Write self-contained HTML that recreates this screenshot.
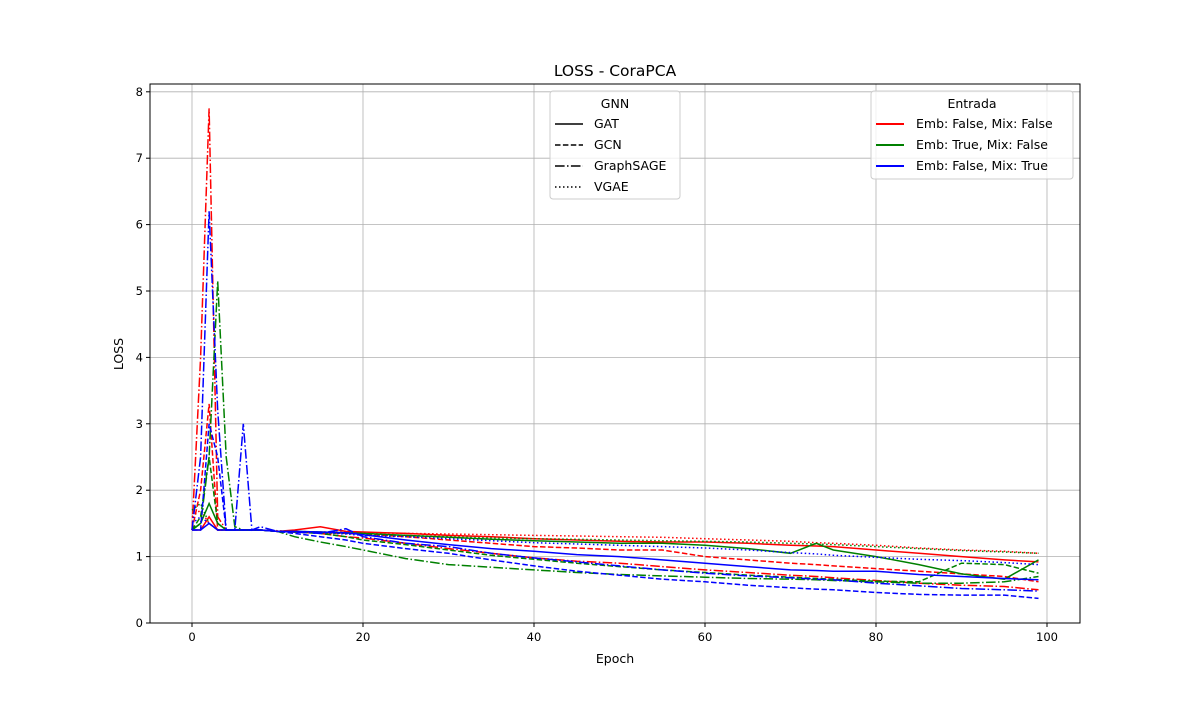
<!DOCTYPE html>
<html><head><meta charset="utf-8"><style>
body{margin:0;background:#fff;font-family:"Liberation Sans","DejaVu Sans",sans-serif}
svg text{font-family:"DejaVu Sans","Liberation Sans",sans-serif}
</style></head><body>
<svg id="chart" width="1200" height="700" xmlns="http://www.w3.org/2000/svg">
<rect width="1200" height="700" fill="#fff"/>
<g id="grid"></g><g id="series"></g><g id="axes"></g>
<text x="615" y="76" text-anchor="middle" font-size="15.5">LOSS - CoraPCA</text>
<text x="615" y="663" text-anchor="middle" font-size="12.5">Epoch</text>
<text x="123" y="354" text-anchor="middle" font-size="12.5" transform="rotate(-90 123 354)">LOSS</text>
<g>
<rect x="550" y="91" width="130" height="108" rx="3" fill="#fff" fill-opacity="0.8" stroke="#ccc"/>
<text x="615" y="108" text-anchor="middle" font-size="12.5">GNN</text>
<line x1="555" y1="124" x2="583" y2="124" stroke="#000" stroke-width="1.5"/><text x="594" y="128" font-size="12.5">GAT</text>
<line x1="555" y1="145" x2="583" y2="145" stroke="#000" stroke-width="1.5" stroke-dasharray="5.5,2.4"/><text x="594" y="149" font-size="12.5">GCN</text>
<line x1="555" y1="166" x2="583" y2="166" stroke="#000" stroke-width="1.5" stroke-dasharray="9.6,2.4,1.5,2.4"/><text x="594" y="170" font-size="12.5">GraphSAGE</text>
<line x1="555" y1="187" x2="583" y2="187" stroke="#000" stroke-width="1.5" stroke-dasharray="1.5,2.5"/><text x="594" y="191" font-size="12.5">VGAE</text>
</g>
<g>
<rect x="871" y="91" width="202" height="88" rx="3" fill="#fff" fill-opacity="0.8" stroke="#ccc"/>
<text x="972" y="108" text-anchor="middle" font-size="12.5">Entrada</text>
<line x1="876" y1="124" x2="904" y2="124" stroke="red" stroke-width="2"/><text x="916" y="128" font-size="12.5">Emb: False, Mix: False</text>
<line x1="876" y1="145" x2="904" y2="145" stroke="green" stroke-width="2"/><text x="916" y="149" font-size="12.5">Emb: True, Mix: False</text>
<line x1="876" y1="166" x2="904" y2="166" stroke="blue" stroke-width="2"/><text x="916" y="170" font-size="12.5">Emb: False, Mix: True</text>
</g>
</svg>
<script>
const epochs=[0,1,2,3,4,5,6,7,8,10,12,15,18,20,25,30,35,40,45,50,55,60,65,70,73,75,80,85,90,95,99];
const xTicks=[0,20,40,60,80,100];
const yTicks=[0,1,2,3,4,5,6,7,8];
const redGAT=[1.4,1.4,1.6,1.4,1.4,1.4,1.4,1.4,1.4,1.38,1.4,1.45,1.38,1.37,1.35,1.32,1.3,1.27,1.25,1.23,1.22,1.22,1.2,1.17,1.16,1.15,1.1,1.05,1.0,0.95,0.92];
const redGCN=[1.4,2.0,3.3,1.4,1.4,1.4,1.4,1.4,1.4,1.38,1.37,1.36,1.35,1.34,1.3,1.25,1.2,1.15,1.13,1.1,1.1,1.0,0.95,0.9,0.88,0.86,0.82,0.78,0.74,0.7,0.62];
const redSAGE=[1.4,4.0,7.75,1.6,1.4,1.4,1.4,1.4,1.4,1.38,1.37,1.35,1.3,1.28,1.2,1.12,1.05,0.98,0.93,0.9,0.85,0.8,0.76,0.72,0.7,0.68,0.64,0.6,0.57,0.55,0.5];
const redVGAE=[1.6,1.7,1.5,1.4,1.4,1.4,1.4,1.4,1.4,1.39,1.38,1.37,1.37,1.36,1.35,1.34,1.33,1.32,1.31,1.3,1.29,1.27,1.25,1.23,1.21,1.2,1.17,1.13,1.1,1.08,1.05];
const greenGAT=[1.4,1.5,1.8,1.5,1.4,1.4,1.4,1.4,1.4,1.38,1.38,1.37,1.36,1.35,1.32,1.29,1.26,1.24,1.22,1.2,1.2,1.17,1.12,1.05,1.2,1.1,1.0,0.88,0.74,0.66,0.95];
const greenGCN=[1.4,1.6,2.5,1.5,1.4,1.4,1.4,1.4,1.4,1.38,1.37,1.35,1.3,1.25,1.18,1.1,1.02,0.96,0.9,0.85,0.8,0.76,0.72,0.69,0.67,0.66,0.63,0.62,0.9,0.88,0.75];
const greenSAGE=[1.4,1.5,2.5,5.15,2.5,1.45,1.4,1.4,1.4,1.38,1.3,1.22,1.15,1.1,0.97,0.88,0.84,0.8,0.76,0.73,0.71,0.69,0.67,0.66,0.65,0.64,0.62,0.6,0.6,0.62,0.7];
const greenVGAE=[1.7,1.8,1.5,1.4,1.4,1.4,1.4,1.4,1.4,1.38,1.37,1.36,1.35,1.34,1.32,1.3,1.28,1.27,1.26,1.25,1.24,1.23,1.22,1.2,1.19,1.18,1.15,1.12,1.09,1.07,1.05];
const blueGAT=[1.4,1.4,1.5,1.4,1.4,1.4,1.4,1.4,1.4,1.38,1.38,1.37,1.36,1.33,1.25,1.18,1.12,1.08,1.03,1.0,0.95,0.9,0.85,0.8,0.79,0.78,0.78,0.73,0.7,0.67,0.65];
const blueGCN=[1.4,1.4,3.0,2.5,1.4,1.4,1.4,1.4,1.4,1.38,1.35,1.3,1.25,1.2,1.12,1.05,0.95,0.86,0.78,0.72,0.66,0.62,0.57,0.53,0.51,0.5,0.46,0.43,0.42,0.42,0.37];
const blueSAGE=[1.4,2.5,6.2,3.2,1.4,1.4,3.0,1.4,1.45,1.38,1.37,1.35,1.42,1.3,1.2,1.15,1.05,0.98,0.92,0.86,0.8,0.75,0.71,0.68,0.66,0.65,0.6,0.56,0.52,0.5,0.48];
const blueVGAE=[1.5,1.6,1.5,1.4,1.4,1.4,1.4,1.4,1.4,1.38,1.37,1.36,1.34,1.32,1.3,1.27,1.24,1.21,1.19,1.17,1.15,1.13,1.1,1.06,1.04,1.02,0.99,0.96,0.94,0.91,0.88];

const L=150,R=1080,T=84,B=623;
const xs=v=>192+v*8.55;
const ys=v=>623-v*66.4;
const NS="http://www.w3.org/2000/svg";
function mk(parent,tag,attrs){const e=document.createElementNS(NS,tag);for(const k in attrs)e.setAttribute(k,attrs[k]);parent.appendChild(e);return e;}
const grid=document.getElementById('grid'),axes=document.getElementById('axes'),ser=document.getElementById('series');
xTicks.forEach(t=>{
 const g=mk(grid,'line',{x1:xs(t),x2:xs(t),y1:T,y2:B,stroke:'#b0b0b0','stroke-width':0.8});
 
 
 mk(axes,'line',{x1:xs(t),x2:xs(t),y1:B,y2:B+4,stroke:'#000'});
 const tx=mk(axes,'text',{x:xs(t),y:B+18,'text-anchor':'middle','font-size':11.5});
 tx.textContent=t;
 
 
});
yTicks.forEach(t=>{
 const g=mk(grid,'line',{x1:L,x2:R,y1:ys(t),y2:ys(t),stroke:'#b0b0b0','stroke-width':0.8});
 
 
 mk(axes,'line',{x1:L-4,x2:L,y1:ys(t),y2:ys(t),stroke:'#000'});
 const tx=mk(axes,'text',{x:L-7,y:ys(t)+4,'text-anchor':'end','font-size':11.5});
 tx.textContent=t;
 
 
});
const frame=mk(axes,'rect',{x:L,y:T,width:R-L,height:B-T,fill:'none',stroke:'#000','stroke-width':1});


const dashes={GAT:'none',GCN:'5.5,2.4',SAGE:'9.6,2.4,1.5,2.4',VGAE:'1.5,2.5'};
const list=[['red','GAT',redGAT],['red','GCN',redGCN],['red','SAGE',redSAGE],['red','VGAE',redVGAE],
['green','GAT',greenGAT],['green','GCN',greenGCN],['green','SAGE',greenSAGE],['green','VGAE',greenVGAE],
['blue','GAT',blueGAT],['blue','GCN',blueGCN],['blue','SAGE',blueSAGE],['blue','VGAE',blueVGAE]];
list.forEach(([c,m,vals])=>{
 const d=vals.map((v,i)=>(i?'L':'M')+xs(epochs[i]).toFixed(1)+','+ys(v).toFixed(1)).join(' ');
 const p=mk(ser,'path',{d:d,fill:'none',stroke:c,'stroke-width':1.5,'stroke-dasharray':dashes[m]});
 
 
});
</script>
</body></html>
